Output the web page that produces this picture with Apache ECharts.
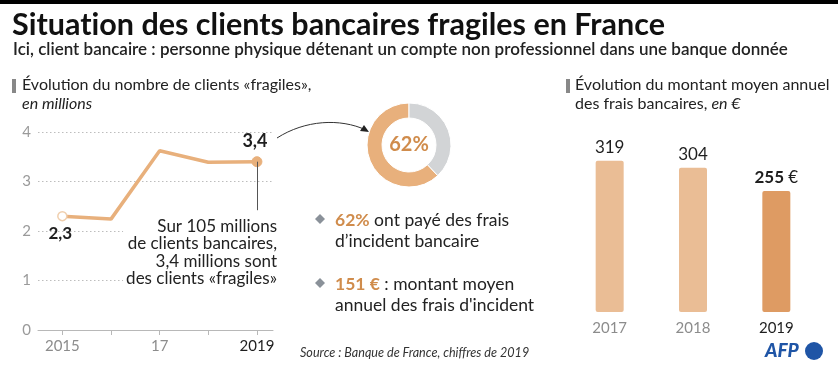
<!DOCTYPE html>
<html><head><meta charset="utf-8">
<script src="https://cdn.jsdelivr.net/npm/echarts@6/dist/echarts.min.js"></script>
<style>html,body{margin:0;padding:0;background:#fff}#c{width:838px;height:371px}</style>
</head><body><div id="c"></div>
<script>
const lineYears = [2015, 2016, 2017, 2018, 2019];
const fragileClients = [2.3, 2.24, 3.62, 3.39, 3.4];
const lineLabelYears = [2015, 2017, 2019];
const lineLabelTexts = ['2015', '17', '2019'];
const donutLabels = ['Ont payé des frais', 'Autres'];
const donutValues = [62, 38];
const barYears = ['2017', '2018', '2019'];
const barFees = [319, 304, 255];

const F = 'Lato, "Open Sans", sans-serif';
const ORANGE = '#e8b07c';
const ORANGE_TXT = '#d08c4c';
const GRAY = '#8c8c8c';
const DARK = '#1e1e1e';

const chart = echarts.init(document.getElementById('c'), null, {renderer: 'canvas'});

const lineData = fragileClients.map((v, i) => {
  const d = {value: [lineYears[i], v]};
  if (i === 0) {
    d.symbol = 'circle'; d.symbolSize = 9;
    d.itemStyle = {color: '#fff', borderColor: '#f0cfae', borderWidth: 1.5};
    d.label = {show: true, position: 'bottom', distance: 4, offset: [-2, 0], formatter: '2,3', fontWeight: 'bold', fontSize: 17, color: DARK, fontFamily: F};
  } else if (i === fragileClients.length - 1) {
    d.symbol = 'circle'; d.symbolSize = 10;
    d.itemStyle = {color: ORANGE, borderColor: ORANGE};
    d.label = {show: true, position: 'top', distance: 6, offset: [-2, 0], formatter: '3,4', fontWeight: 'bold', fontSize: 18, color: DARK, fontFamily: F};
  } else {
    d.symbol = 'none';
  }
  return d;
});

const option = {
  animation: false,
  textStyle: {fontFamily: F},
  grid: [
    {left: 38, right: 565, top: 132, bottom: 41},
    {left: 568, right: 20, top: 146, bottom: 59}
  ],
  xAxis: [
    {
      gridIndex: 0, type: 'value', min: 2014.5, max: 2019.33,
      axisLine: {show: true, lineStyle: {color: '#b8b8b8', width: 1}},
      axisTick: {show: true, customValues: lineYears, length: 5, lineStyle: {color: '#b8b8b8'}},
      axisLabel: {
        customValues: lineLabelYears, fontSize: 15, margin: 9, fontFamily: F,
        formatter: (v) => {
          const i = lineLabelYears.indexOf(v);
          const t = i >= 0 ? lineLabelTexts[i] : '';
          return v === lineLabelYears[lineLabelYears.length - 1] ? '{d|' + t + '}' : t;
        },
        color: GRAY, rich: {d: {color: DARK, fontSize: 15, fontFamily: F}}
      },
      splitLine: {show: false}
    },
    {
      gridIndex: 1, type: 'category', data: barYears.map((y, i) => i === barYears.length - 1 ? {value: y, textStyle: {color: DARK}} : y),
      axisLine: {show: false}, axisTick: {show: false},
      axisLabel: {color: GRAY, fontSize: 15, margin: 9, fontFamily: F}
    }
  ],
  yAxis: [
    {
      gridIndex: 0, type: 'value', min: 0, max: 4, interval: 1,
      axisLine: {show: false}, axisTick: {show: false},
      axisLabel: {color: '#9a9a9a', fontSize: 15, margin: 7, fontFamily: F},
      splitLine: {show: true, lineStyle: {color: '#bdbdbd', type: [1.5, 2.5], width: 1}},
      z: 0
    },
    {gridIndex: 1, type: 'value', min: 0, max: 350, show: false, splitLine: {show: false}}
  ],
  series: [
    {
      type: 'line', xAxisIndex: 0, yAxisIndex: 0, data: lineData,
      lineStyle: {color: ORANGE, width: 3.5}, itemStyle: {color: ORANGE},
      showSymbol: true, z: 3,
      markLine: {
        silent: true, symbol: 'none', label: {show: false},
        lineStyle: {color: '#555', width: 1, type: 'solid'},
        data: [[{coord: [2019, 3.4]}, {coord: [2019, 2.42]}]]
      }
    },
    {
      type: 'pie', center: [409, 145], radius: [27, 42], startAngle: 90, clockwise: false,
      label: {show: false}, labelLine: {show: false}, silent: true,
      itemStyle: {borderColor: '#fff', borderWidth: 1},
      data: donutValues.map((v, i) => ({name: donutLabels[i], value: v, itemStyle: {color: i === 0 ? ORANGE : '#d2d4d6'}}))
    },
    {
      type: 'bar', xAxisIndex: 1, yAxisIndex: 1, barWidth: 28,
      data: barFees.map((v, i) => ({value: v, itemStyle: {color: i === barFees.length - 1 ? '#de9b63' : '#eabd95', borderRadius: 2}})),
      label: {
        show: true, position: 'top', distance: 5, fontSize: 17, color: DARK, fontFamily: F,
        formatter: (p) => p.dataIndex === barFees.length - 1 ? '{b|' + p.value + '} €' : String(p.value),
        rich: {b: {fontWeight: 'bold', fontSize: 17, color: DARK, fontFamily: F}}
      }
    }
  ],
  graphic: [
    {type: 'rect', shape: {x: 0, y: 0, width: 838, height: 4}, style: {fill: '#000'}},
    {type: 'text', x: 12, y: 10, style: {text: '{t|Situat}{t|ion des clients bancaires fragiles en France}', rich: {t: {font: 'bold 30.5px ' + F, fill: '#111'}}}},
    {type: 'text', x: 13, y: 41, style: {text: 'Ici, client bancaire : personne physique détenant un compte non professionnel dans une banque donnée', font: '600 17px ' + F, fill: '#222'}},
    {type: 'rect', shape: {x: 12, y: 79, width: 4, height: 14}, style: {fill: '#888'}},
    {type: 'text', x: 22, y: 77, style: {text: 'Évolution du nombre de clients «fragiles»,', font: '16px ' + F, fill: '#222'}},
    {type: 'text', x: 22, y: 96, style: {text: 'en millions', font: 'italic 16px ' + F, fill: '#222'}},
    {type: 'rect', shape: {x: 566, y: 79, width: 4, height: 14}, style: {fill: '#888'}},
    {type: 'text', x: 575, y: 77, style: {text: 'Évolution du montant moyen annuel', font: '16px ' + F, fill: '#222'}},
    {type: 'text', x: 575, y: 96, style: {text: '{a|des frais bancaires, }{i|en €}', rich: {a: {font: '16px ' + F, fill: '#222'}, i: {font: 'italic 16px ' + F, fill: '#222'}}}},
    {type: 'text', x: 277, y: 218, z: 10, style: {text: 'Sur 105 millions\nde clients bancaires,\n3,4 millions sont\ndes clients «fragiles»', font: '17px ' + F, fill: '#222', align: 'right', lineHeight: 17.3, backgroundColor: '#fff', padding: [0, 0, 0, 3]}},
    {type: 'bezierCurve', shape: {x1: 277, y1: 138, cpx1: 305, cpy1: 120, cpx2: 340, cpy2: 118, x2: 366, y2: 130}, style: {stroke: '#333', lineWidth: 1, fill: null}},
    {type: 'polygon', shape: {points: [[369, 132], [360, 131], [364, 125]]}, style: {fill: '#222'}},
    {type: 'text', x: 409, y: 145, style: {text: '62%', font: 'bold 20px ' + F, fill: ORANGE_TXT, align: 'center', verticalAlign: 'middle'}},
    {type: 'polygon', shape: {points: [[320, 214], [325, 219], [320, 224], [315, 219]]}, style: {fill: '#8a9199'}},
    {type: 'text', x: 335, y: 210, style: {text: '{o|62%} ont payé des frais\nd\u2019incident bancaire', font: '17.5px ' + F, fill: '#222', lineHeight: 21, rich: {o: {font: 'bold 17.5px ' + F, fill: ORANGE_TXT}}}},
    {type: 'polygon', shape: {points: [[320, 278], [325, 283], [320, 288], [315, 283]]}, style: {fill: '#8a9199'}},
    {type: 'text', x: 335, y: 274, style: {text: '{o|151 €} : montant moyen\nannuel des frais d\'incident', font: '17.5px ' + F, fill: '#222', lineHeight: 21, rich: {o: {font: 'bold 17.5px ' + F, fill: ORANGE_TXT}}}},
    {type: 'text', x: 300, y: 346, style: {text: 'Source : Banque de France, chiffres de 2019', font: 'italic 12.6px ' + F, fill: '#333'}},
    {type: 'text', x: 765, y: 341, style: {text: 'AFP', font: 'italic 900 19px ' + F, fill: '#1f55a6'}},
    {type: 'circle', shape: {cx: 814, cy: 351, r: 9}, style: {fill: '#1f55a6'}}
  ]
};
chart.setOption(option);
</script></body></html>
